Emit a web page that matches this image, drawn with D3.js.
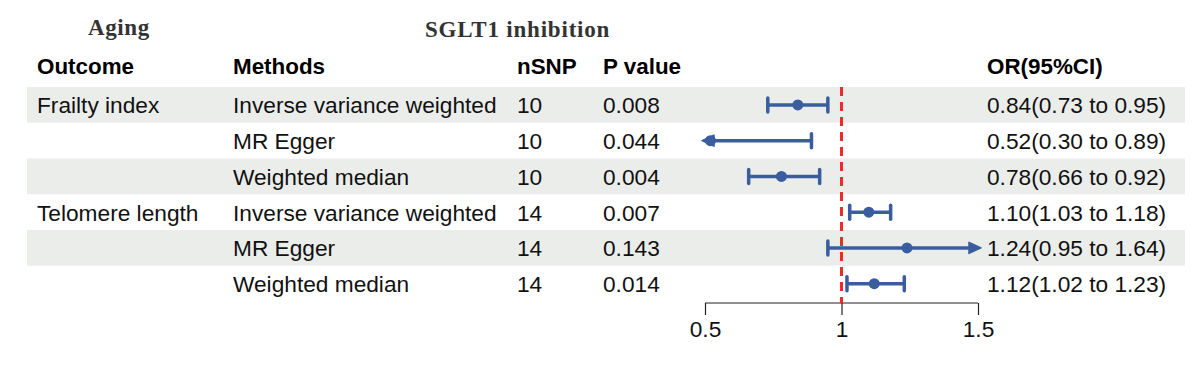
<!DOCTYPE html>
<html>
<head>
<meta charset="utf-8">
<script src="https://cdn.jsdelivr.net/npm/d3@7"></script>
<style>
html,body{margin:0;padding:0;background:#fff;}
svg{display:block;}
</style>
</head>
<body>
<svg id="chart" width="1200" height="391"></svg>
<script>
const outcomes = ["Frailty index", "", "", "Telomere length", "", ""];
const methods = ["Inverse variance weighted", "MR Egger", "Weighted median", "Inverse variance weighted", "MR Egger", "Weighted median"];
const nsnp = [10, 10, 10, 14, 14, 14];
const pvalues = ["0.008", "0.044", "0.004", "0.007", "0.143", "0.014"];
const orValues = [0.84, 0.52, 0.78, 1.10, 1.24, 1.12];
const ciLower = [0.73, 0.30, 0.66, 1.03, 0.95, 1.02];
const ciUpper = [0.95, 0.89, 0.92, 1.18, 1.64, 1.23];
const orLabels = ["0.84(0.73 to 0.95)", "0.52(0.30 to 0.89)", "0.78(0.66 to 0.92)", "1.10(1.03 to 1.18)", "1.24(0.95 to 1.64)", "1.12(1.02 to 1.23)"];
const xTicks = [0.5, 1, 1.5];
const headers = ["Outcome", "Methods", "nSNP", "P value", "OR(95%CI)"];

const svg = d3.select("#chart");
const font = "'Liberation Sans', Arial, sans-serif";
const blue = "#3A5D9F";
const red = "#EE2A2A";
const fs = 22.7;

const rows = d3.range(methods.length);
const y = d3.scaleBand().domain(rows).range([87, 301.5]).padding(0);
const x = d3.scaleLinear().domain([0.5, 1.5]).range([705, 978]);
const colX = [37, 233, 517, 603, 987];

// bands
svg.append("g").selectAll("rect").data(rows.filter(i => i % 2 === 0)).join("rect")
  .attr("x", 27).attr("width", 1158)
  .attr("y", i => y(i)).attr("height", y.bandwidth())
  .attr("fill", "#EBEDEB");

// titles
svg.append("text").attr("x", 88).attr("y", 35).text("Aging")
  .attr("font-family", "'Liberation Serif', 'Times New Roman', serif").attr("font-weight", "bold")
  .attr("font-size", 23).attr("letter-spacing", 0.6).attr("fill", "#333");
svg.append("text").attr("x", 425).attr("y", 37).text("SGLT1 inhibition")
  .attr("font-family", "'Liberation Serif', 'Times New Roman', serif").attr("font-weight", "bold")
  .attr("font-size", 23).attr("letter-spacing", 0.8).attr("fill", "#333");

// headers
svg.append("g").selectAll("text").data(headers).join("text")
  .attr("x", (d, i) => colX[i]).attr("y", 74)
  .attr("font-family", font).attr("font-weight", "bold").attr("font-size", 22.4)
  .attr("fill", "#000").text(d => d);

// table text
const cols = [outcomes, methods, nsnp, pvalues];
cols.forEach((arr, c) => {
  svg.append("g").selectAll("text").data(rows).join("text")
    .attr("x", colX[c]).attr("y", i => y(i) + y.bandwidth() / 2 + 0.5)
    .attr("dominant-baseline", "central")
    .attr("font-family", font).attr("font-size", fs).attr("fill", "#111")
    .text(i => arr[i]);
});
svg.append("g").selectAll("text").data(rows).join("text")
  .attr("x", colX[4]).attr("y", i => y(i) + y.bandwidth() / 2 + 0.5)
  .attr("dominant-baseline", "central")
  .attr("font-family", font).attr("font-size", fs).attr("fill", "#111")
  .text(i => orLabels[i]);

// axis
const axisG = svg.append("g").attr("transform", "translate(0,303)")
  .call(d3.axisBottom(x).tickValues(xTicks).tickFormat(d3.format("")).tickSize(12).tickPadding(6));
axisG.select(".domain").attr("stroke", "#222").attr("stroke-width", 1.2).attr("d", `M${x(0.5)},0H${x(1.5)}`);
axisG.selectAll(".tick line").attr("stroke", "#222").attr("stroke-width", 1.2);
axisG.selectAll(".tick text").attr("font-family", font).attr("font-size", fs).attr("fill", "#111");

// reference line
svg.append("line").attr("x1", x(1)).attr("x2", x(1)).attr("y1", 87).attr("y2", 303)
  .attr("stroke", red).attr("stroke-width", 3).attr("stroke-dasharray", "9,6");

// error bars
const [dmin, dmax] = x.domain();
const g = svg.append("g");
rows.forEach(i => {
  const cy = y(i) + y.bandwidth() / 2;
  const loClip = ciLower[i] < dmin, hiClip = ciUpper[i] > dmax;
  const x0 = x(Math.max(ciLower[i], dmin)), x1 = x(Math.min(ciUpper[i], dmax));
  const lx0 = loClip ? x0 + 6 : x0, lx1 = hiClip ? x1 - 6 : x1;
  g.append("line").attr("x1", lx0).attr("x2", lx1).attr("y1", cy).attr("y2", cy)
    .attr("stroke", blue).attr("stroke-width", 3.5);
  const cap = 7;
  if (!loClip) g.append("line").attr("x1", x0).attr("x2", x0).attr("y1", cy - cap).attr("y2", cy + cap)
    .attr("stroke", blue).attr("stroke-width", 3.5).attr("stroke-linecap", "round");
  else g.append("path").attr("d", `M${x0 - 3},${cy}L${x0 + 9},${cy - 5.5}L${x0 + 9},${cy + 5.5}Z`)
    .attr("fill", blue).attr("stroke", blue).attr("stroke-width", 1.5).attr("stroke-linejoin", "round");
  if (!hiClip) g.append("line").attr("x1", x1).attr("x2", x1).attr("y1", cy - cap).attr("y2", cy + cap)
    .attr("stroke", blue).attr("stroke-width", 3.5).attr("stroke-linecap", "round");
  else g.append("path").attr("d", `M${x1 + 3},${cy}L${x1 - 9},${cy - 5.5}L${x1 - 9},${cy + 5.5}Z`)
    .attr("fill", blue).attr("stroke", blue).attr("stroke-width", 1.5).attr("stroke-linejoin", "round");
  if (orValues[i] >= dmin && orValues[i] <= dmax)
    g.append("circle").attr("cx", x(orValues[i])).attr("cy", cy).attr("r", 5.5).attr("fill", blue);
});
</script>
</body>
</html>
